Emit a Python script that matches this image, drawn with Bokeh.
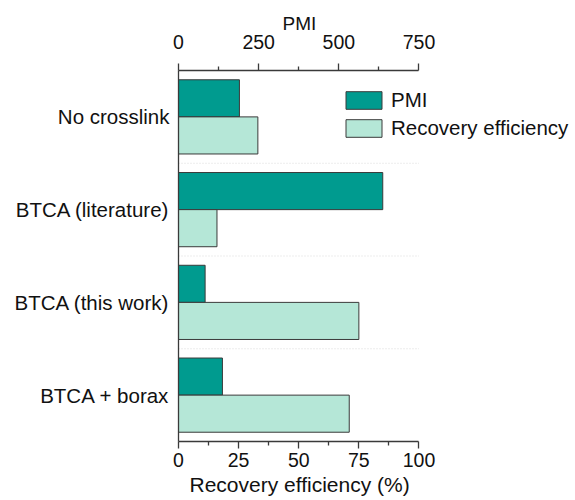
from bokeh.plotting import figure
from bokeh.models import (FactorRange, Range1d, LinearAxis, FixedTicker, ColumnDataSource,
                          Legend, LegendItem, Title)
from bokeh.transform import dodge
from bokeh.embed import file_html
from bokeh.resources import INLINE

categories = ["No crosslink", "BTCA (literature)", "BTCA (this work)", "BTCA + borax"]
pmi = [190, 637, 83, 137]
recovery = [33, 16, 75, 71]
pmi_ticks = [0, 250, 500, 750]
pmi_minor = [125, 375, 625]
rec_ticks = [0, 25, 50, 75, 100]
rec_minor = [12.5, 37.5, 62.5, 87.5]

FONT = "Liberation Sans"
TXT = "#111111"
AX = "#3a3a3a"

src = ColumnDataSource(dict(cat=categories, pmi=pmi, rec=recovery))
sep = ColumnDataSource(dict(cat=categories[1:], x0=[0] * 3, x1=[100] * 3))

# the frame extends right of the axes so that the legend, which overhangs in the reference, is not clipped
p = figure(frame_width=392, frame_height=371, output_backend="svg", toolbar_location=None,
           y_range=FactorRange(factors=categories[::-1]), x_range=Range1d(0, 163),
           min_border_left=178, min_border_right=0, min_border_top=70, min_border_bottom=58,
           x_axis_location=None)
p.extra_x_ranges = {"pmi": Range1d(0, 1222.5)}
p.outline_line_color = None
p.xgrid.visible = False
p.ygrid.visible = False

p.segment(x0="x0", x1="x1", y0=dodge("cat", 0.5, range=p.y_range),
          y1=dodge("cat", 0.5, range=p.y_range), source=sep,
          line_color="#d9d9d9", line_width=1, line_dash="1 2")

r_pmi = p.hbar(y=dodge("cat", 0.2, range=p.y_range), right="pmi", left=0, height=0.4,
               source=src, x_range_name="pmi", fill_color="#009B8F",
               line_color=AX, line_width=1)
r_rec = p.hbar(y=dodge("cat", -0.2, range=p.y_range), right="rec", left=0, height=0.4,
               source=src, fill_color="#B5E7D7", line_color=AX, line_width=1)

def style(ax, major, minor):
    ax.ticker = FixedTicker(ticks=major, minor_ticks=minor)
    ax.bounds = (major[0], major[-1])
    ax.axis_line_color = AX
    ax.axis_line_width = 1.3
    ax.major_tick_line_color = AX
    ax.minor_tick_line_color = AX
    ax.major_tick_line_width = 1.3
    ax.minor_tick_line_width = 1.3
    ax.major_tick_in = 0
    ax.major_tick_out = 7
    ax.minor_tick_in = 0
    ax.minor_tick_out = 4
    ax.major_label_text_font = FONT
    ax.major_label_text_font_size = "19.5px"
    ax.major_label_text_color = TXT

top = LinearAxis(x_range_name="pmi")
style(top, pmi_ticks, pmi_minor)
top.major_label_standoff = 15
p.add_layout(top, "above")
p.add_layout(Title(text="PMI", align="left", offset=104, standoff=-4, text_font=FONT,
                   text_font_size="19px", text_font_style="normal", text_color=TXT), "above")

bottom = LinearAxis()
style(bottom, rec_ticks, rec_minor)
bottom.major_label_standoff = 4
p.add_layout(bottom, "below")
p.add_layout(Title(text="Recovery efficiency (%)", align="left", offset=11, standoff=2,
                   text_font=FONT, text_font_size="21px", text_font_style="normal",
                   text_color=TXT), "below")

ya = p.yaxis[0]
ya.axis_line_color = AX
ya.axis_line_width = 1.3
ya.major_tick_line_color = None
ya.minor_tick_line_color = None
ya.major_tick_out = 0
ya.major_tick_in = 0
ya.major_label_text_font = FONT
ya.major_label_text_font_size = "20.5px"
ya.major_label_text_color = TXT
ya.major_label_standoff = 9

legend = Legend(items=[LegendItem(label="PMI", renderers=[r_pmi]),
                       LegendItem(label="Recovery efficiency", renderers=[r_rec])],
                location=(163, 301), glyph_width=45, glyph_height=22,
                label_standoff=5, spacing=4, padding=0, margin=0,
                border_line_color=None, background_fill_alpha=0,
                label_text_font=FONT, label_text_font_size="20.5px",
                label_text_color=TXT, label_height=22)
p.add_layout(legend, "center")

open("out.html", "w").write(file_html(p, INLINE))
